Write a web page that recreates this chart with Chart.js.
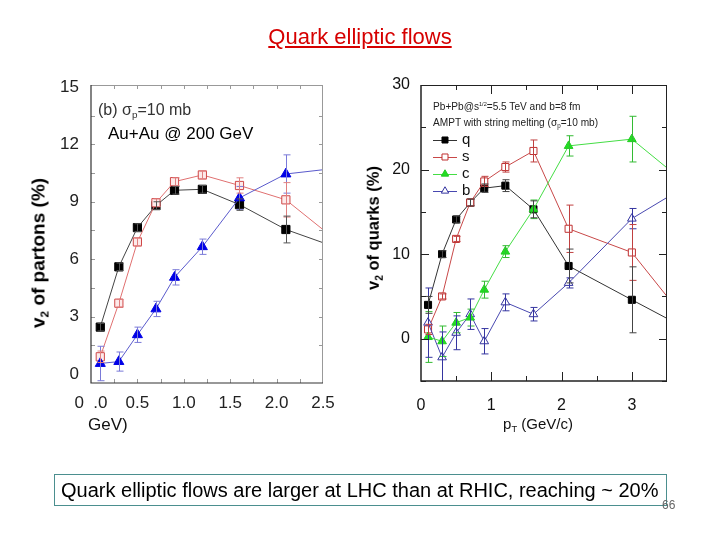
<!DOCTYPE html>
<html>
<head>
<meta charset="utf-8">
<script src="https://cdn.jsdelivr.net/npm/chart.js@4.4.0/dist/chart.umd.min.js"></script>
<style>
body { margin: 0; background: #fff; font-family: Arial, "Liberation Sans", sans-serif; }
#page { position: relative; width: 720px; height: 540px; overflow: hidden; }
canvas { position: absolute; left: 0; top: 0; }
.txt { position: absolute; white-space: nowrap; line-height: 1; }
.sub { font-size: 0.62em; position: relative; top: 0.35em; }
.sup { font-size: 0.55em; position: relative; top: -0.6em; }
.rot { transform: translate(-50%, -50%) rotate(-90deg); font-weight: bold; }
</style>
</head>
<body>
<div id="page">
  <canvas id="left" width="720" height="540"></canvas>
  <canvas id="right" width="720" height="540"></canvas>

  <div class="txt" style="left:0; width:720px; top:26px; text-align:center; font-size:22px; color:#d60000; text-decoration:underline;">Quark elliptic flows</div>

  <div class="txt" style="left:98px; top:102px; font-size:16px; color:#333;">(b) &sigma;<span class="sub">p</span>=10 mb</div>
  <div class="txt" style="left:108px; top:125px; font-size:17px; color:#000;">Au+Au @ 200 GeV</div>
  <div class="txt rot" style="left:38px; top:253px; font-size:19px;">v<span class="sub">2</span> of partons (%)</div>
  <div class="txt" style="left:88px; top:416px; font-size:17px; color:#111;">GeV)</div>

  <div class="txt" style="left:433px; top:101px; font-size:11px; color:#222; transform:scaleX(0.92); transform-origin:left;">Pb+Pb@s<span class="sup">1/2</span>=5.5 TeV and b=8 fm</div>
  <div class="txt" style="left:433px; top:117px; font-size:11px; color:#222; transform:scaleX(0.92); transform-origin:left;">AMPT with string melting (&sigma;<span class="sub">p</span>=10 mb)</div>
  <div class="txt rot" style="left:373px; top:228px; font-size:16.5px;">v<span class="sub">2</span> of quarks (%)</div>
  <div class="txt" style="left:538px; top:416px; transform:translateX(-50%); font-size:15px; color:#111;">p<span class="sub">T</span> (GeV/c)</div>

  <div class="txt" style="left:54px; top:474px; width:605px; height:30px; border:1px solid #4b8f8f; font-size:20px; line-height:30px; padding-left:6px; color:#000;">Quark elliptic flows are larger at LHC than at RHIC, reaching ~ 20%</div>
  <div class="txt" style="left:662px; top:499px; font-size:12px; color:#666;">66</div>
</div>

<script>
// left panel: Au+Au @ 200 GeV, partons
let ptLeft = [0.1, 0.3, 0.5, 0.7, 0.9, 1.2, 1.6, 2.1, 3.0];
let v2LeftQ = [2.45, 5.6, 7.65, 8.8, 9.6, 9.65, 8.85, 7.55, 6.0];
let v2LeftS = [0.9, 3.7, 6.9, 8.95, 10.05, 10.4, 9.85, 9.1, 5.6];
let v2LeftT = [0.55, 0.65, 2.05, 3.4, 5.05, 6.65, 9.2, 10.45, 10.95];
let errLeftQ = [0.2, 0.2, 0.2, 0.2, 0.2, 0.2, 0.3, 0.7, 0.7];
let errLeftS = [0.3, 0.2, 0.2, 0.2, 0.2, 0.2, 0.4, 0.9, 0.9];
let errLeftT = [0.9, 0.5, 0.4, 0.4, 0.4, 0.4, 0.6, 1.0, 1.0];
let xTicksLeft = [0, 0.5, 1.0, 1.5, 2.0, 2.5];
let yTicksLeft = [0, 3, 6, 9, 12, 15];

// right panel: Pb+Pb @ 5.5 TeV, quarks
let ptRight = [0.1, 0.3, 0.5, 0.7, 0.9, 1.2, 1.6, 2.1, 3.0, 4.0];
let v2Q = [4.0, 10.0, 14.1, 16.1, 17.8, 18.1, 15.3, 8.6, 4.6, 0.2];
let v2S = [1.1, 5.0, 11.8, 16.1, 18.6, 20.3, 22.2, 13.0, 10.2, -0.2];
let v2C = [0.2, -0.3, 1.9, 2.5, 5.8, 10.3, 15.3, 22.8, 23.6, 16.8];
let v2B = [1.9, -2.2, 0.7, 2.9, -0.3, 4.3, 2.9, 6.6, 14.2, 19.2];
let errQ = [1.0, 0.4, 0.4, 0.4, 0.5, 0.7, 1.0, 2.0, 3.9, 0];
let errS = [0.6, 0.3, 0.3, 0.4, 0.6, 0.6, 1.3, 2.8, 3.3, 0];
let errC = [3.0, 1.8, 1.2, 1.0, 1.0, 0.7, 1.1, 1.2, 2.7, 0];
let errB = [4.1, 3.0, 2.0, 1.8, 1.5, 1.0, 0.8, 0.6, 1.2, 0];
let xTicksRight = [0, 1, 2, 3];
let yTicksRight = [0, 10, 20, 30];
let legendLabels = ['q', 's', 'c', 'b'];

Chart.defaults.font.family = 'Arial, "Liberation Sans", sans-serif';
Chart.defaults.color = '#111';

function points(xs, ys) {
    return xs.map((x, i) => ({x: x, y: ys[i]}));
}

function range(a, b, step) {
    let out = [];
    for (let v = a; v <= b + 1e-9; v += step) out.push(+v.toFixed(3));
    return out;
}

function drawMarker(ctx, style, x, y, r, fill, stroke) {
    ctx.beginPath();
    if (style === 'rect') {
        let s = r * Math.SQRT1_2;
        ctx.rect(x - s, y - s, 2 * s, 2 * s);
    } else {
        ctx.moveTo(x, y - r);
        ctx.lineTo(x + r * 0.866, y + r * 0.5);
        ctx.lineTo(x - r * 0.866, y + r * 0.5);
        ctx.closePath();
    }
    ctx.fillStyle = fill;
    ctx.fill();
    ctx.lineWidth = 1;
    ctx.strokeStyle = stroke;
    ctx.stroke();
}

// box round the plot, with small ticks pointing inwards
const framePlugin = {
    id: 'frame',
    afterDraw(chart, args, o) {
        const ctx = chart.ctx, a = chart.chartArea;
        const x = chart.scales.x, y = chart.scales.y;
        ctx.save();
        ctx.lineWidth = 1;
        ctx.strokeStyle = o.sideColor;
        ctx.beginPath();
        ctx.moveTo(a.left, a.top + 0.5); ctx.lineTo(a.right, a.top + 0.5);
        ctx.moveTo(a.right - 0.5, a.top); ctx.lineTo(a.right - 0.5, a.bottom);
        ctx.stroke();
        ctx.strokeStyle = o.tickColor;
        ctx.beginPath();
        o.xTicks.forEach(t => {
            let px = Math.round(x.getPixelForValue(t.v)) + 0.5;
            ctx.moveTo(px, a.bottom); ctx.lineTo(px, a.bottom - t.len);
            ctx.moveTo(px, a.top); ctx.lineTo(px, a.top + t.len);
        });
        o.yTicks.forEach(t => {
            let py = Math.round(y.getPixelForValue(t.v)) + 0.5;
            ctx.moveTo(a.left, py); ctx.lineTo(a.left + t.len, py);
            ctx.moveTo(a.right, py); ctx.lineTo(a.right - t.len, py);
        });
        ctx.stroke();
        ctx.strokeStyle = o.axisColor;
        ctx.lineWidth = o.axisWidth;
        ctx.beginPath();
        ctx.moveTo(a.left, a.top); ctx.lineTo(a.left, a.bottom); ctx.lineTo(a.right, a.bottom);
        ctx.stroke();
        ctx.restore();
    }
};

const errorPlugin = {
    id: 'errorBars',
    afterDatasetsDraw(chart) {
        const ctx = chart.ctx, a = chart.chartArea;
        const x = chart.scales.x, y = chart.scales.y;
        ctx.save();
        ctx.beginPath();
        ctx.rect(a.left, a.top, a.right - a.left, a.bottom - a.top);
        ctx.clip();
        ctx.lineWidth = 1;
        chart.data.datasets.forEach(ds => {
            if (!ds.errors) return;
            ctx.strokeStyle = ds.errColor;
            ctx.beginPath();
            ds.data.forEach((p, i) => {
                let e = ds.errors[i];
                if (!e || p.x > x.max) return;
                let px = Math.round(x.getPixelForValue(p.x)) + 0.5;
                let hi = y.getPixelForValue(p.y + e), lo = y.getPixelForValue(p.y - e);
                ctx.moveTo(px, hi); ctx.lineTo(px, lo);
                ctx.moveTo(px - 3, hi); ctx.lineTo(px + 4, hi);
                ctx.moveTo(px - 3, lo); ctx.lineTo(px + 4, lo);
            });
            ctx.stroke();
        });
        ctx.restore();
    }
};

const legendPlugin = {
    id: 'markLegend',
    afterDraw(chart, args, o) {
        if (!o.labels) return;
        const ctx = chart.ctx;
        ctx.save();
        o.labels.forEach((lab, i) => {
            let ds = chart.data.datasets.find(d => d.label === lab);
            let yy = o.y + i * o.dy;
            ctx.strokeStyle = ds.borderColor;
            ctx.lineWidth = 1;
            ctx.beginPath();
            ctx.moveTo(o.x, yy + 0.5); ctx.lineTo(o.x + o.len, yy + 0.5);
            ctx.stroke();
            drawMarker(ctx, ds.pointStyle, o.x + o.len / 2, yy, ds.pointRadius * 0.85,
                ds.pointBackgroundColor, ds.pointBorderColor);
            ctx.fillStyle = '#111';
            ctx.font = o.font;
            ctx.textBaseline = 'middle';
            ctx.fillText(lab, o.x + o.len + 5, yy);
        });
        ctx.restore();
    }
};

function series(label, xs, ys, errs, line, style, r, fill, stroke, errColor) {
    return {
        label: label,
        data: points(xs, ys),
        errors: errs,
        errColor: errColor,
        borderColor: line,
        borderWidth: 1,
        tension: 0,
        pointStyle: style,
        pointRadius: r,
        pointBackgroundColor: fill,
        pointBorderColor: stroke,
        pointBorderWidth: 1
    };
}

function scaleFix(size, dim) {
    return function(s) { s[dim] = size; };
}

new Chart(document.getElementById('left'), {
    type: 'line',
    data: {
        datasets: [
            series('T', ptLeft, v2LeftT, errLeftT, '#5a5acc', 'triangle', 5.8, '#0000e6', '#0000e6', '#7a7ad8'),
            series('S', ptLeft, v2LeftS, errLeftS, '#e07070', 'rect', 5.8, '#fdeaea', '#d04848', '#e08080'),
            series('Q', ptLeft, v2LeftQ, errLeftQ, '#444444', 'rect', 5.8, '#000000', '#000000', '#555555')
        ]
    },
    options: {
        responsive: false,
        animation: false,
        devicePixelRatio: 1,
        layout: {padding: {left: 51, right: 397, top: 85, bottom: 112}},
        plugins: {
            legend: {display: false},
            tooltip: {enabled: false},
            frame: {
                sideColor: '#999', axisColor: '#333', axisWidth: 1.2, tickColor: '#999',
                xTicks: range(0.25, 2.25, 0.25).map(v => ({v: v, len: 4})),
                yTicks: range(1.5, 13.5, 1.5).map(v => ({v: v, len: 4}))
            }
        },
        scales: {
            x: {
                type: 'linear', min: 0, max: 2.5,
                afterBuildTicks: s => { s.ticks = xTicksLeft.map(v => ({value: v})); },
                afterFit: scaleFix(45, 'height'),
                grid: {display: false}, border: {display: false},
                ticks: {
                    padding: 2, color: '#222', font: {size: 17}, maxRotation: 0, autoSkip: false,
                    callback: v => v === 0 ? '0  .0' : v.toFixed(1)
                }
            },
            y: {
                min: -0.47, max: 15.1,
                afterBuildTicks: s => { s.ticks = yTicksLeft.map(v => ({value: v})); },
                afterFit: scaleFix(40, 'width'),
                grid: {display: false}, border: {display: false},
                ticks: {padding: 4, color: '#222', font: {size: 17}}
            }
        }
    },
    plugins: [framePlugin, errorPlugin]
});

new Chart(document.getElementById('right'), {
    type: 'line',
    data: {
        datasets: [
            series('c', ptRight, v2C, errC, '#44dd44', 'triangle', 5, '#22dd22', '#22cc22', '#33bb33'),
            series('b', ptRight, v2B, errB, '#4848b0', 'triangle', 5, '#ffffff', '#3535a0', '#3535a0'),
            series('s', ptRight, v2S, errS, '#c84848', 'rect', 5, '#ffffff', '#c03030', '#c04040'),
            series('q', ptRight, v2Q, errQ, '#333333', 'rect', 5, '#000000', '#000000', '#444444')
        ]
    },
    options: {
        responsive: false,
        animation: false,
        devicePixelRatio: 1,
        layout: {padding: {left: 381, right: 53, top: 85, bottom: 114}},
        plugins: {
            legend: {display: false},
            tooltip: {enabled: false},
            frame: {
                sideColor: '#222', axisColor: '#222', axisWidth: 1.5, tickColor: '#222',
                xTicks: [1, 2, 3].map(v => ({v: v, len: 9})).concat([0.5, 1.5, 2.5].map(v => ({v: v, len: 5}))),
                yTicks: range(-5, 30, 5).map(v => ({v: v, len: v % 10 === 0 ? 8 : 5}))
            },
            markLegend: {labels: legendLabels, x: 433, y: 140, dy: 17, len: 24, font: '15px Arial, "Liberation Sans", sans-serif'}
        },
        scales: {
            x: {
                type: 'linear', min: 0, max: 3.5,
                afterBuildTicks: s => { s.ticks = xTicksRight.map(v => ({value: v})); },
                afterFit: scaleFix(45, 'height'),
                grid: {display: false}, border: {display: false},
                ticks: {padding: 7, color: '#111', font: {size: 16}, maxRotation: 0, autoSkip: false}
            },
            y: {
                min: -5, max: 30,
                afterBuildTicks: s => { s.ticks = yTicksRight.map(v => ({value: v})); },
                afterFit: scaleFix(40, 'width'),
                grid: {display: false}, border: {display: false},
                ticks: {padding: 3, color: '#111', font: {size: 16}}
            }
        }
    },
    plugins: [framePlugin, errorPlugin, legendPlugin]
});
</script>
</body>
</html>
